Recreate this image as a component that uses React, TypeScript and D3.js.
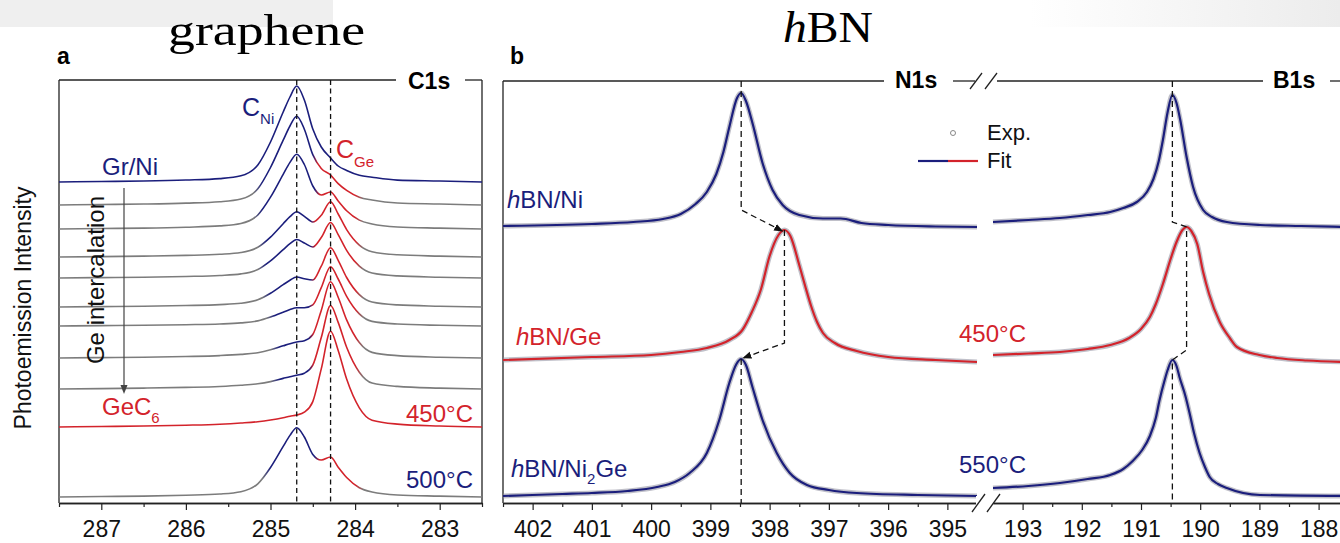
import React, { useEffect, useRef } from 'react';
import * as d3 from 'd3';

// ---------- panel a : C1s (graphene) ----------
const c1sEnergy = [287.5, 287.0, 286.5, 286.0, 285.6, 285.35, 285.15, 285.0, 284.85, 284.77, 284.69, 284.6, 284.5, 284.4, 284.29, 284.2, 284.1, 283.95, 283.8, 283.5, 283.0, 282.5];
const grNi = [0, .5, 1, 2, 3.4, 6.2, 17, 40, 70, 85, 96, 82, 53, 35, 24, 16, 11.5, 6.7, 4.8, 1.9, 1, 0];
const step1 = [0, .5, 1, 1.9, 3.3, 6, 16.2, 37.5, 64.8, 79, 88.8, 75.8, 50.4, 36.5, 30, 21.4, 14.6, 7.8, 5, 2, 1, 0];
const step2 = [0, .5, .9, 1.8, 3.1, 5.5, 14, 31.8, 54.7, 66.6, 74.8, 64.5, 43, 34, 37, 28, 18.3, 8.9, 5, 2, .9, 0];
const step3 = [0, .4, .9, 1.6, 2.7, 4.5, 9.7, 19.9, 33.3, 40.3, 45.3, 40.7, 35, 41.8, 55.3, 43, 27.4, 11.9, 5.2, 2.2, .9, 0];
const step4 = [0, .4, .8, 1.5, 2.5, 4.1, 8.5, 17.1, 28.3, 34.3, 38.5, 35, 31, 40.4, 55.5, 43.4, 27.6, 11.8, 5, 2.1, .8, 0];
const step5 = [0, .4, .8, 1.5, 2.4, 3.7, 7.2, 13.7, 22.3, 26.8, 30, 28.2, 27, 40.8, 59.3, 46.7, 29.5, 12.4, 5, 2.1, .8, 0];
const step6 = [0, .35, .7, 1.3, 2, 3.1, 5.1, 8.9, 13.7, 16.4, 18.3, 18.3, 21.2, 38.3, 59.3, 47, 29.6, 12.1, 4.6, 2, .7, 0];
const step7 = [0, .4, .8, 1.5, 2.4, 3.6, 5.3, 8.2, 12.2, 14.3, 16, 17.3, 23.5, 47.6, 76.3, 60.7, 38.1, 15.4, 5.6, 2.4, .8, 0];
const step8 = [0, .4, .9, 1.6, 2.5, 3.7, 5.2, 7.4, 10.6, 12.3, 13.8, 15.8, 23.8, 51.4, 83.5, 66.6, 41.7, 16.8, 6, 2.6, .9, 0];
const geC6 = [0, .5, 1, 1.8, 2.8, 4, 5.3, 7, 9.3, 10.8, 12, 14.9, 25.4, 58.1, 95.8, 76.5, 47.9, 19.2, 6.8, 2.9, 1, 0];
const at500 = [0, .5, .9, 1.8, 3, 5.3, 13.2, 29.5, 50.6, 61.6, 69.2, 60, 42.6, 37, 40, 29.8, 19.5, 9.3, 5, 2, .9, 0];
const c1sOffsets = [321, 298, 274, 246, 225, 196, 177, 145, 114, 76, 6];
const c1sTicks = [287, 286, 285, 284, 283];
const c1sMinor = [287.5, 286.5, 285.5, 284.5, 283.5, 282.5];
const cNiPos = 284.69;
const cGePos = 284.29;
// where each trace turns gray->blue, blue->red, red->gray ('blue' / 'red' = single colour)
const c1sBands: ([number, number, number] | string)[] = [
  'blue', [285.15, 284.47, 283.95], [285.15, 284.45, 283.95], [285.1, 284.5, 283.95],
  [285.1, 284.5, 283.95], [285.05, 284.5, 283.95], [285.0, 284.52, 283.95],
  [284.95, 284.52, 283.95], [284.95, 284.52, 283.95], 'red', [285.05, 284.45, 283.95],
];

// ---------- panel b : N1s / B1s (hBN) ----------
const n1sNi = [[402.5, 1], [401, 3], [400.3, 5], [399.8, 8], [399.5, 13], [399.25, 23], [399.06, 35], [398.9, 53], [398.78, 75], [398.68, 100], [398.55, 129], [398.48, 134], [398.4, 126], [398.29, 104], [398.12, 64], [397.95, 37], [397.78, 22], [397.5, 12], [397.1, 8.5], [396.8, 8.5], [396.45, 4], [396, 2], [395.2, 0.5], [394.5, 0]];
const n1sGe = [[402.5, 2], [401, 5], [400, 7], [399.5, 10], [399.06, 14], [398.68, 22], [398.46, 32], [398.3, 50], [398.15, 72], [398.0, 106], [397.85, 127], [397.75, 132], [397.65, 126], [397.5, 97], [397.4, 76], [397.3, 56], [397.2, 40], [397.1, 29], [396.9, 19], [396.53, 11], [396, 5], [395.2, 2], [394.5, 0]];
const n1sNi2Ge = [[402.5, 0], [401.5, 2], [401, 3], [400.4, 5], [399.9, 9], [399.6, 14], [399.35, 23], [399.06, 43], [398.85, 76], [398.68, 113], [398.56, 132], [398.48, 137], [398.4, 131], [398.29, 109], [398.12, 76], [397.88, 43], [397.66, 23], [397.37, 11], [397, 6], [396.53, 3], [395.5, 1], [394.5, 0]];
const b1sNi = [[193.5, 5], [192.9, 7], [192.37, 9], [191.9, 12], [191.52, 15], [191.3, 19], [191.07, 25], [190.9, 35], [190.79, 48], [190.7, 66], [190.63, 87], [190.55, 115], [190.47, 132], [190.4, 124], [190.34, 108], [190.23, 70], [190.12, 40], [189.95, 17], [189.8, 10], [189.55, 5], [188.99, 2], [188.3, 1], [187.5, 0]];
const b1sGe = [[193.5, 7], [192.9, 8.5], [192.37, 10], [191.9, 13], [191.52, 17], [191.2, 24], [191.0, 33], [190.85, 45], [190.75, 58], [190.63, 78], [190.5, 103], [190.4, 120], [190.3, 132], [190.23, 135], [190.15, 131], [190.05, 118], [189.95, 90], [189.85, 68], [189.67, 40], [189.5, 24], [189.38, 15], [189, 7], [188.7, 4], [188.2, 1.5], [187.5, 0]];
const b1sNi2Ge = [[193.5, 8], [192.9, 10], [192.37, 13], [191.9, 17], [191.52, 21], [191.3, 27], [191.14, 35], [190.98, 46], [190.85, 60], [190.75, 78], [190.69, 95], [190.6, 116], [190.55, 126], [190.47, 136], [190.4, 130], [190.35, 119], [190.25, 100], [190.18, 83], [190.1, 62], [190.01, 43], [189.92, 29], [189.84, 19], [189.7, 12], [189.55, 8], [188.99, 1], [187.5, 0]];
const hbnOffsets = [276, 141, 7];
const n1sTicks = [402, 401, 400, 399, 398, 397, 396, 395];
const n1sMinor = [402.5, 401.5, 400.5, 399.5, 398.5, 397.5, 396.5, 395.5];
const b1sTicks = [193, 192, 191, 190, 189, 188];
const b1sMinor = [192.5, 191.5, 190.5, 189.5, 188.5];
const nNiPos = 398.48, nGePos = 397.75;
const bNiPos = 190.47, bGePos = 190.23;

const NAVY = '#1b1e7c';
const RED = '#d3232b';
const GRAY = '#7c7c7c';
const FONT = '"Liberation Sans", Arial, sans-serif';
const SERIF = '"Liberation Serif", "Times New Roman", serif';

const xC = d3.scaleLinear().domain([287.5, 282.5]).range([59, 482]);
const yC = d3.scaleLinear().domain([0, 423]).range([503, 80]);
const xN = d3.scaleLinear().domain([402.5, 394.5]).range([503, 977]);
const xB = d3.scaleLinear().domain([193.5, 187.5]).range([993, 1348.2]);
const yB = d3.scaleLinear().domain([0, 422]).range([503, 81]);

const App = () => {
  const axRef = useRef<SVGGElement>(null);

  useEffect(() => {
    const g = d3.select(axRef.current);
    g.selectAll('*').remove();
    const addAxis = (scale: any, major: number[], minor: number[]) => {
      g.append('g')
        .attr('transform', 'translate(0,503)')
        .call(d3.axisBottom(scale).tickValues(minor).tickSize(4).tickSizeOuter(0).tickFormat(() => ''));
      const ax = g.append('g')
        .attr('transform', 'translate(0,503)')
        .call(d3.axisBottom(scale).tickValues(major).tickSize(7).tickSizeOuter(0).tickFormat(d3.format('d')));
      ax.selectAll('text').attr('y', 18).style('font-size', '23px').style('font-family', FONT).attr('fill', '#111');
    };
    addAxis(xC, c1sTicks, c1sMinor);
    addAxis(xN, n1sTicks, n1sMinor);
    addAxis(xB, b1sTicks, b1sMinor);
    g.selectAll('path.domain').attr('stroke', '#222').attr('stroke-width', 1.3);
    g.selectAll('.tick line').attr('stroke', '#222').attr('stroke-width', 1.2);
  }, []);

  const c1sSeries = [grNi, step1, step2, step3, step4, step5, step6, step7, step8, geC6, at500];
  const lineC = (vals: number[], off: number) =>
    d3.line<number>().x((_, i) => xC(c1sEnergy[i])).y(v => yC(v + off)).curve(d3.curveMonotoneX)(vals) || '';

  const frac = (e: number) => (xC(e) - 59) / 423;
  const stopsFor = (b: [number, number, number] | string) => {
    if (b === 'blue') return [[0, NAVY], [1, NAVY]];
    if (b === 'red') return [[0, RED], [1, RED]];
    const [bs, br, rg] = b as [number, number, number];
    return [
      [0, GRAY], [frac(bs + 0.05), GRAY], [frac(bs - 0.05), NAVY],
      [frac(br + 0.03), NAVY], [frac(br - 0.03), RED],
      [frac(rg + 0.05), RED], [frac(rg - 0.05), GRAY], [1, GRAY],
    ];
  };

  const hbn = [
    { data: n1sNi, x: xN, off: hbnOffsets[0], color: NAVY },
    { data: n1sGe, x: xN, off: hbnOffsets[1], color: RED },
    { data: n1sNi2Ge, x: xN, off: hbnOffsets[2], color: NAVY },
    { data: b1sNi, x: xB, off: hbnOffsets[0], color: NAVY },
    { data: b1sGe, x: xB, off: hbnOffsets[1], color: RED },
    { data: b1sNi2Ge, x: xB, off: hbnOffsets[2], color: NAVY },
  ];
  const lineB = (d: number[][], x: any, off: number) =>
    d3.line<number[]>().x(p => x(p[0])).y(p => yB(p[1] + off)).curve(d3.curveMonotoneX)(d) || '';

  // dashed guides in panel b
  const nGuide1 = `M${xN(nNiPos)},${yB(422)}V${yB(293)}L${xN(nGePos) - 2},${yB(272)}`;
  const nGuide2 = `M${xN(nGePos)},${yB(273)}V${yB(160)}L${xN(nNiPos) + 2},${yB(145)}`;
  const nGuide3 = `M${xN(nNiPos)},${yB(144)}V${yB(0)}`;
  const bGuide = `M${xB(bNiPos)},${yB(422)}V${yB(281)}L${xB(bGePos)},${yB(276)}V${yB(153)}L${xB(bNiPos)},${yB(143)}V${yB(0)}`;

  const lbl = { fontFamily: FONT, fontSize: 24 } as const;

  return (
    <svg width={1340} height={543} style={{ position: 'absolute', left: 0, top: 0, background: '#fff' }}>
      <defs>
        <linearGradient id="topfade" x1="0" x2="1" y1="0" y2="0">
          <stop offset="0" stopColor="#ffffff" />
          <stop offset="1" stopColor="#ececec" />
        </linearGradient>
        {c1sBands.map((b, i) => (
          <linearGradient key={i} id={`cg${i}`} gradientUnits="userSpaceOnUse" x1={59} x2={482} y1={0} y2={0}>
            {stopsFor(b).map((s, j) => <stop key={j} offset={s[0] as number} stopColor={s[1] as string} />)}
          </linearGradient>
        ))}
        <marker id="arr" viewBox="0 0 10 10" refX="9" refY="5" markerWidth="7" markerHeight="7" orient="auto">
          <path d="M0,1 L10,5 L0,9 Z" fill="#111" />
        </marker>
        <clipPath id="clipB"><rect x={985} y={60} width={360} height={450} /></clipPath>
      </defs>

      <rect x={0} y={0} width={333} height={27} fill="#efefef" />
      <rect x={1030} y={0} width={310} height={27} fill="url(#topfade)" />

      <text x={168} y={45} fontFamily={SERIF} fontSize={44} textLength={197} lengthAdjust="spacingAndGlyphs">graphene</text>
      <text x={783} y={42} fontFamily={SERIF} fontSize={44} textLength={90} lengthAdjust="spacingAndGlyphs">
        <tspan fontStyle="italic">h</tspan>BN
      </text>

      {/* ---------- panel a ---------- */}
      <text x={57} y={64} fontFamily={FONT} fontSize={23} fontWeight="bold">a</text>
      <g stroke="#222" strokeWidth={1.3} fill="none">
        <line x1={59} y1={80} x2={59} y2={503} />
        <line x1={482} y1={80} x2={482} y2={503} />
        <line x1={59} y1={80} x2={396} y2={80} />
        <line x1={465} y1={80} x2={482} y2={80} />
      </g>
      <text x={408} y={89} fontFamily={FONT} fontSize={23} fontWeight="bold">C1s</text>

      {c1sSeries.map((s, i) => (
        <path key={i} d={lineC(s, c1sOffsets[i])} fill="none" stroke={`url(#cg${i})`} strokeWidth={1.6} />
      ))}
      {[cNiPos, cGePos].map(e => (
        <line key={e} x1={xC(e)} x2={xC(e)} y1={80} y2={503} stroke="#111" strokeWidth={1.3} strokeDasharray="5,3.5" />
      ))}

      <text x={242} y={116} fill={NAVY} {...lbl} fontSize={25}>C<tspan fontSize={15} dy={8}>Ni</tspan></text>
      <text x={336} y={158} fill={RED} {...lbl} fontSize={25}>C<tspan fontSize={15} dy={9}>Ge</tspan></text>
      <text x={102} y={175} fill={NAVY} {...lbl}>Gr/Ni</text>
      <text x={102} y={415} fill={RED} {...lbl}>GeC<tspan fontSize={15} dy={8}>6</tspan></text>
      <text x={473} y={422} fill={RED} {...lbl} textAnchor="end">450°C</text>
      <text x={473} y={488} fill={NAVY} {...lbl} textAnchor="end">500°C</text>
      <text transform="translate(104,280) rotate(-90)" textAnchor="middle" {...lbl} fill="#111">Ge intercalation</text>
      <line x1={124} y1={188} x2={124} y2={387} stroke="#444" strokeWidth={1.2} />
      <path d="M120.5,385 L127.5,385 L124,394 Z" fill="#444" />
      <text transform="translate(31,308) rotate(-90)" textAnchor="middle" fontFamily={FONT} fontSize={23} fill="#111">Photoemission Intensity</text>

      {/* ---------- panel b ---------- */}
      <text x={510} y={64} fontFamily={FONT} fontSize={23} fontWeight="bold">b</text>
      <g stroke="#222" strokeWidth={1.3} fill="none">
        <line x1={503} y1={81} x2={503} y2={503} />
        <line x1={503} y1={81} x2={884} y2={81} />
        <line x1={953} y1={81} x2={975} y2={81} />
        <line x1={997} y1={81} x2={1263} y2={81} />
        <line x1={1330} y1={81} x2={1340} y2={81} />
        <line x1={970} y1={89} x2={982} y2={73} />
        <line x1={985} y1={89} x2={997} y2={73} />
      </g>
      <text x={895} y={88} fontFamily={FONT} fontSize={23} fontWeight="bold">N1s</text>
      <text x={1273} y={88} fontFamily={FONT} fontSize={23} fontWeight="bold">B1s</text>

      <g clipPath="url(#clipB)">
        {hbn.filter(c => c.x === xB).map((c, i) => (
          <path key={'hb' + i} d={lineB(c.data, c.x, c.off)} fill="none" stroke="#8c8c9c" strokeOpacity={0.55} strokeWidth={5} />
        ))}
        {hbn.filter(c => c.x === xB).map((c, i) => (
          <path key={'fb' + i} d={lineB(c.data, c.x, c.off)} fill="none" stroke={c.color} strokeWidth={2.2} />
        ))}
      </g>
      {hbn.filter(c => c.x === xN).map((c, i) => (
        <path key={'hn' + i} d={lineB(c.data, c.x, c.off)} fill="none" stroke="#8c8c9c" strokeOpacity={0.55} strokeWidth={5} />
      ))}
      {hbn.filter(c => c.x === xN).map((c, i) => (
        <path key={'fn' + i} d={lineB(c.data, c.x, c.off)} fill="none" stroke={c.color} strokeWidth={2.2} />
      ))}

      <g fill="none" stroke="#111" strokeWidth={1.3} strokeDasharray="6,4">
        <path d={nGuide1} markerEnd="url(#arr)" />
        <path d={nGuide2} markerEnd="url(#arr)" />
        <path d={nGuide3} />
        <path d={bGuide} />
      </g>

      <circle cx={953} cy={133} r={2.5} fill="none" stroke="#888" strokeWidth={1} />
      <text x={987} y={140} {...lbl} fontSize={22} fill="#111">Exp.</text>
      <line x1={918} x2={948} y1={161} y2={161} stroke={NAVY} strokeWidth={2.2} />
      <line x1={948} x2={978} y1={161} y2={161} stroke={RED} strokeWidth={2.2} />
      <text x={987} y={168} {...lbl} fontSize={22} fill="#111">Fit</text>

      <text x={507} y={208} fill={NAVY} {...lbl}><tspan fontStyle="italic">h</tspan>BN/Ni</text>
      <text x={516} y={345} fill={RED} {...lbl}><tspan fontStyle="italic">h</tspan>BN/Ge</text>
      <text x={511} y={477} fill={NAVY} {...lbl}><tspan fontStyle="italic">h</tspan>BN/Ni<tspan fontSize={15} dy={7}>2</tspan><tspan dy={-7}>Ge</tspan></text>
      <text x={1026} y={342} fill={RED} {...lbl} textAnchor="end">450°C</text>
      <text x={1026} y={473} fill={NAVY} {...lbl} textAnchor="end">550°C</text>

      <g ref={axRef} />
      <rect x={976} y={496} width={17} height={12} fill="#fff" />
      <g stroke="#222" strokeWidth={1.3} fill="none">
        <line x1={972} y1={512} x2={985} y2={494} />
        <line x1={987} y1={512} x2={1000} y2={494} />
      </g>
    </svg>
  );
};

export default App;
